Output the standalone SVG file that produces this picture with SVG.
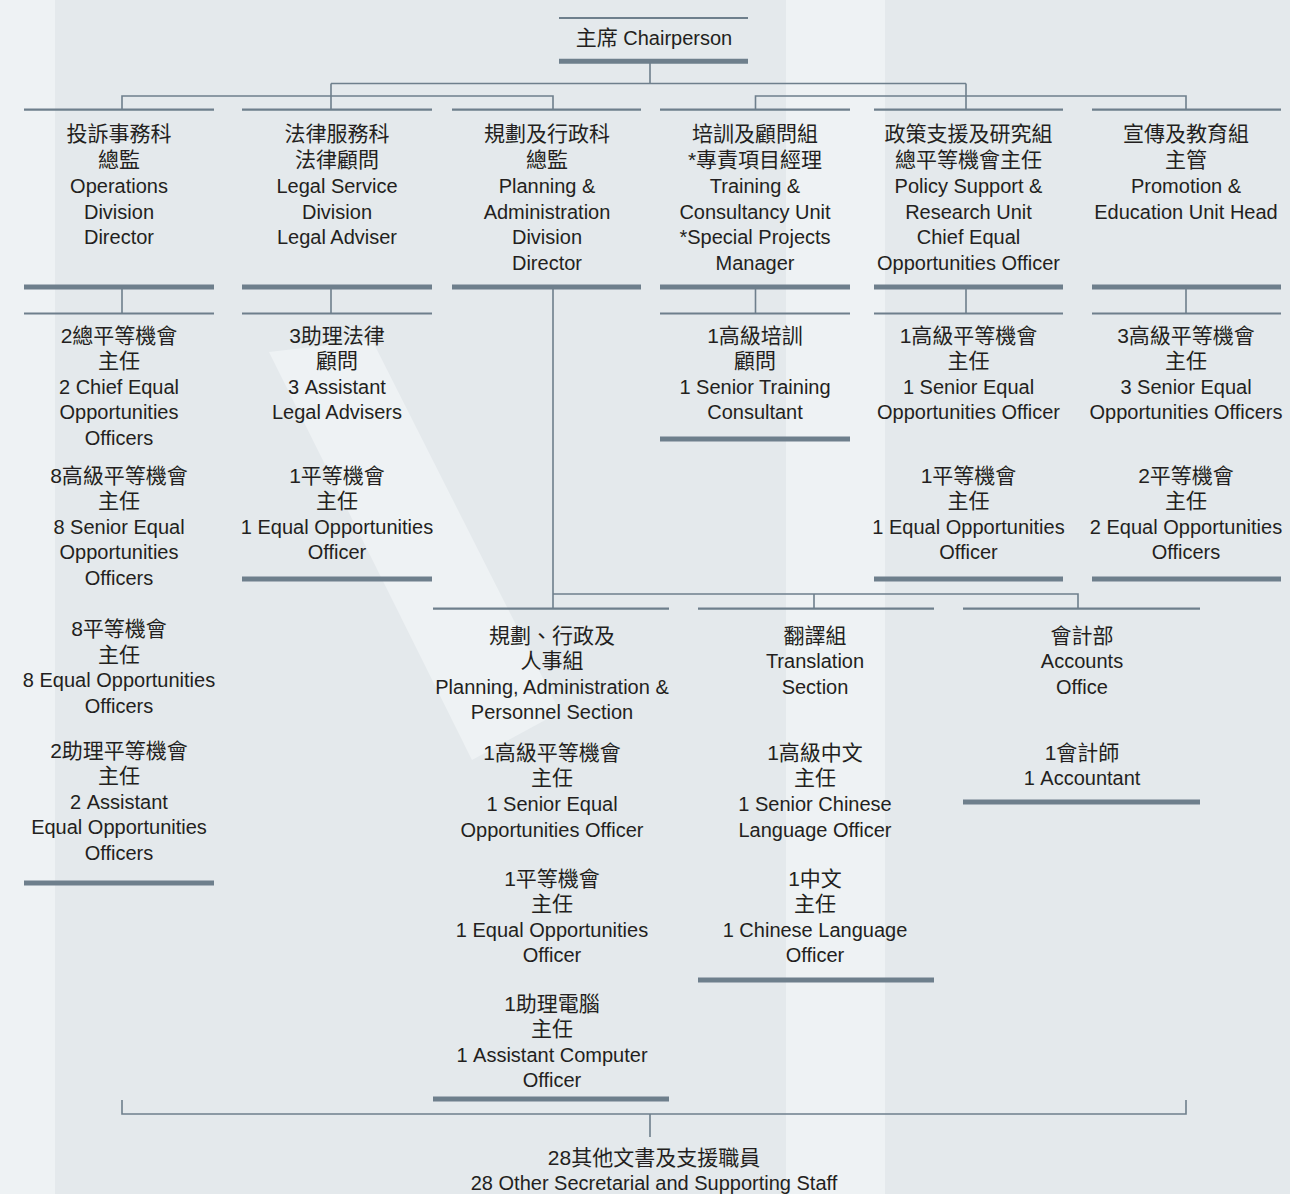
<svg xmlns="http://www.w3.org/2000/svg" width="1290" height="1194" viewBox="0 0 1290 1194">
<style>
text{font-family:"Liberation Sans","Noto Sans CJK TC",sans-serif;fill:#231f20;text-anchor:middle}
.zh{font-size:21px}
.en{font-size:20px}
.top{stroke:#6e7f8c;stroke-width:2.2}
.bot{stroke:#6e7f8c;stroke-width:5}
.con{stroke:#6e7f8c;stroke-width:1.6;fill:none}
.lt{fill:#eef2f4}
</style>
<rect width="1290" height="1194" fill="#e4e9ec"/>
<rect class="lt" x="0" y="0" width="55" height="1194"/>
<rect class="lt" x="786" y="0" width="99" height="1194"/>
<polygon class="lt" points="269,352 372,340 560,712 472,760"/>

<g id="connectors">
<path class="con" d="M650,63V83.5M331,83.5H966M331,83.5V109M966,83.5V109"/>
<path class="con" d="M122,109V96H553V109"/>
<path class="con" d="M755.5,109V96H1186V109"/>
<path class="con" d="M122,289V313M331,289V313M755.5,289V313M966,289V313M1186,289V313"/>
<path class="con" d="M553,289V608M553,594H1078V608M814,594V608"/>
<path class="con" d="M122,1100V1114H1186V1100M650,1114V1137"/>
</g>

<g id="chair">
<line class="top" x1="559" y1="18" x2="748" y2="18"/>
<line class="bot" x1="559" y1="61.3" x2="748" y2="61.3"/>
<text x="654" y="45"><tspan class="zh">主席</tspan><tspan class="en"> Chairperson</tspan></text>
</g>

<g id="operations">
<line class="top" x1="24" y1="109.7" x2="214" y2="109.7"/>
<line class="bot" x1="24" y1="287" x2="214" y2="287"/>
<text x="119"><tspan class="zh" x="119" y="141">投訴事務科</tspan><tspan class="zh" x="119" y="167">總監</tspan><tspan class="en" x="119" y="193">Operations</tspan><tspan class="en" x="119" y="219">Division</tspan><tspan class="en" x="119" y="244">Director</tspan></text>
</g>

<g id="legal">
<line class="top" x1="242" y1="109.7" x2="432" y2="109.7"/>
<line class="bot" x1="242" y1="287" x2="432" y2="287"/>
<text><tspan class="zh" x="337" y="141">法律服務科</tspan><tspan class="zh" x="337" y="167">法律顧問</tspan><tspan class="en" x="337" y="193">Legal Service</tspan><tspan class="en" x="337" y="219">Division</tspan><tspan class="en" x="337" y="244">Legal Adviser</tspan></text>
</g>

<g id="planning">
<line class="top" x1="452" y1="109.7" x2="641" y2="109.7"/>
<line class="bot" x1="452" y1="287" x2="641" y2="287"/>
<text><tspan class="zh" x="547" y="141">規劃及行政科</tspan><tspan class="zh" x="547" y="167">總監</tspan><tspan class="en" x="547" y="193">Planning &amp;</tspan><tspan class="en" x="547" y="219">Administration</tspan><tspan class="en" x="547" y="244">Division</tspan><tspan class="en" x="547" y="270">Director</tspan></text>
</g>

<g id="training">
<line class="top" x1="660" y1="109.7" x2="850" y2="109.7"/>
<line class="bot" x1="660" y1="287" x2="850" y2="287"/>
<text><tspan class="zh" x="755" y="141">培訓及顧問組</tspan><tspan class="zh" x="755" y="167">*專責項目經理</tspan><tspan class="en" x="755" y="193">Training &amp;</tspan><tspan class="en" x="755" y="219">Consultancy Unit</tspan><tspan class="en" x="755" y="244">*Special Projects</tspan><tspan class="en" x="755" y="270">Manager</tspan></text>
</g>

<g id="policy">
<line class="top" x1="874" y1="109.7" x2="1063" y2="109.7"/>
<line class="bot" x1="874" y1="287" x2="1063" y2="287"/>
<text><tspan class="zh" x="968.5" y="141">政策支援及研究組</tspan><tspan class="zh" x="968.5" y="167">總平等機會主任</tspan><tspan class="en" x="968.5" y="193">Policy Support &amp;</tspan><tspan class="en" x="968.5" y="219">Research Unit</tspan><tspan class="en" x="968.5" y="244">Chief Equal</tspan><tspan class="en" x="968.5" y="270">Opportunities Officer</tspan></text>
</g>

<g id="promotion">
<line class="top" x1="1092" y1="109.7" x2="1281" y2="109.7"/>
<line class="bot" x1="1092" y1="287" x2="1281" y2="287"/>
<text><tspan class="zh" x="1186" y="141">宣傳及教育組</tspan><tspan class="zh" x="1186" y="167">主管</tspan><tspan class="en" x="1186" y="193">Promotion &amp;</tspan><tspan class="en" x="1186" y="219">Education Unit Head</tspan></text>
</g>

<g id="operations-staff">
<line class="top" x1="24" y1="313.5" x2="214" y2="313.5"/>
<line class="bot" x1="24" y1="883" x2="214" y2="883"/>
<text><tspan class="zh" x="119" y="343">2總平等機會</tspan><tspan class="zh" x="119" y="368">主任</tspan><tspan class="en" x="119" y="394">2 Chief Equal</tspan><tspan class="en" x="119" y="419">Opportunities</tspan><tspan class="en" x="119" y="445">Officers</tspan><tspan class="zh" x="119" y="483">8高級平等機會</tspan><tspan class="zh" x="119" y="508">主任</tspan><tspan class="en" x="119" y="534">8 Senior Equal</tspan><tspan class="en" x="119" y="559">Opportunities</tspan><tspan class="en" x="119" y="585">Officers</tspan><tspan class="zh" x="119" y="636">8平等機會</tspan><tspan class="zh" x="119" y="662">主任</tspan><tspan class="en" x="119" y="687">8 Equal Opportunities</tspan><tspan class="en" x="119" y="713">Officers</tspan><tspan class="zh" x="119" y="758">2助理平等機會</tspan><tspan class="zh" x="119" y="783">主任</tspan><tspan class="en" x="119" y="809">2 Assistant</tspan><tspan class="en" x="119" y="834">Equal Opportunities</tspan><tspan class="en" x="119" y="860">Officers</tspan></text>
</g>

<g id="legal-staff">
<line class="top" x1="242" y1="313.5" x2="432" y2="313.5"/>
<line class="bot" x1="242" y1="579" x2="432" y2="579"/>
<text><tspan class="zh" x="337" y="343">3助理法律</tspan><tspan class="zh" x="337" y="368">顧問</tspan><tspan class="en" x="337" y="394">3 Assistant</tspan><tspan class="en" x="337" y="419">Legal Advisers</tspan><tspan class="zh" x="337" y="483">1平等機會</tspan><tspan class="zh" x="337" y="508">主任</tspan><tspan class="en" x="337" y="534">1 Equal Opportunities</tspan><tspan class="en" x="337" y="559">Officer</tspan></text>
</g>

<g id="training-staff">
<line class="top" x1="660" y1="313.5" x2="850" y2="313.5"/>
<line class="bot" x1="660" y1="439" x2="850" y2="439"/>
<text><tspan class="zh" x="755" y="343">1高級培訓</tspan><tspan class="zh" x="755" y="368">顧問</tspan><tspan class="en" x="755" y="394">1 Senior Training</tspan><tspan class="en" x="755" y="419">Consultant</tspan></text>
</g>

<g id="policy-staff">
<line class="top" x1="874" y1="313.5" x2="1063" y2="313.5"/>
<line class="bot" x1="874" y1="579" x2="1063" y2="579"/>
<text><tspan class="zh" x="968.5" y="343">1高級平等機會</tspan><tspan class="zh" x="968.5" y="368">主任</tspan><tspan class="en" x="968.5" y="394">1 Senior Equal</tspan><tspan class="en" x="968.5" y="419">Opportunities Officer</tspan><tspan class="zh" x="968.5" y="483">1平等機會</tspan><tspan class="zh" x="968.5" y="508">主任</tspan><tspan class="en" x="968.5" y="534">1 Equal Opportunities</tspan><tspan class="en" x="968.5" y="559">Officer</tspan></text>
</g>

<g id="promotion-staff">
<line class="top" x1="1092" y1="313.5" x2="1281" y2="313.5"/>
<line class="bot" x1="1092" y1="579" x2="1281" y2="579"/>
<text><tspan class="zh" x="1186" y="343">3高級平等機會</tspan><tspan class="zh" x="1186" y="368">主任</tspan><tspan class="en" x="1186" y="394">3 Senior Equal</tspan><tspan class="en" x="1186" y="419">Opportunities Officers</tspan><tspan class="zh" x="1186" y="483">2平等機會</tspan><tspan class="zh" x="1186" y="508">主任</tspan><tspan class="en" x="1186" y="534">2 Equal Opportunities</tspan><tspan class="en" x="1186" y="559">Officers</tspan></text>
</g>

<g id="personnel">
<line class="top" x1="433" y1="608.7" x2="669" y2="608.7"/>
<line class="bot" x1="433" y1="1099" x2="669" y2="1099"/>
<text><tspan class="zh" x="552" y="643">規劃、行政及</tspan><tspan class="zh" x="552" y="668">人事組</tspan><tspan class="en" x="552" y="694">Planning, Administration &amp;</tspan><tspan class="en" x="552" y="719">Personnel Section</tspan><tspan class="zh" x="552" y="760">1高級平等機會</tspan><tspan class="zh" x="552" y="785">主任</tspan><tspan class="en" x="552" y="811">1 Senior Equal</tspan><tspan class="en" x="552" y="837">Opportunities Officer</tspan><tspan class="zh" x="552" y="886">1平等機會</tspan><tspan class="zh" x="552" y="911">主任</tspan><tspan class="en" x="552" y="937">1 Equal Opportunities</tspan><tspan class="en" x="552" y="962">Officer</tspan><tspan class="zh" x="552" y="1011">1助理電腦</tspan><tspan class="zh" x="552" y="1036">主任</tspan><tspan class="en" x="552" y="1062">1 Assistant Computer</tspan><tspan class="en" x="552" y="1087">Officer</tspan></text>
</g>

<g id="translation">
<line class="top" x1="698" y1="608.7" x2="934" y2="608.7"/>
<line class="bot" x1="698" y1="980" x2="934" y2="980"/>
<text><tspan class="zh" x="815" y="643">翻譯組</tspan><tspan class="en" x="815" y="668">Translation</tspan><tspan class="en" x="815" y="694">Section</tspan><tspan class="zh" x="815" y="760">1高級中文</tspan><tspan class="zh" x="815" y="785">主任</tspan><tspan class="en" x="815" y="811">1 Senior Chinese</tspan><tspan class="en" x="815" y="837">Language Officer</tspan><tspan class="zh" x="815" y="886">1中文</tspan><tspan class="zh" x="815" y="911">主任</tspan><tspan class="en" x="815" y="937">1 Chinese Language</tspan><tspan class="en" x="815" y="962">Officer</tspan></text>
</g>

<g id="accounts">
<line class="top" x1="963" y1="608.7" x2="1200" y2="608.7"/>
<line class="bot" x1="963" y1="802" x2="1200" y2="802"/>
<text><tspan class="zh" x="1082" y="643">會計部</tspan><tspan class="en" x="1082" y="668">Accounts</tspan><tspan class="en" x="1082" y="694">Office</tspan><tspan class="zh" x="1082" y="760">1會計師</tspan><tspan class="en" x="1082" y="785">1 Accountant</tspan></text>
</g>

<g id="support-staff">
<text><tspan class="zh" x="654" y="1164.5">28其他文書及支援職員</tspan><tspan class="en" x="654" y="1190">28 Other Secretarial and Supporting Staff</tspan></text>
</g>
</svg>
